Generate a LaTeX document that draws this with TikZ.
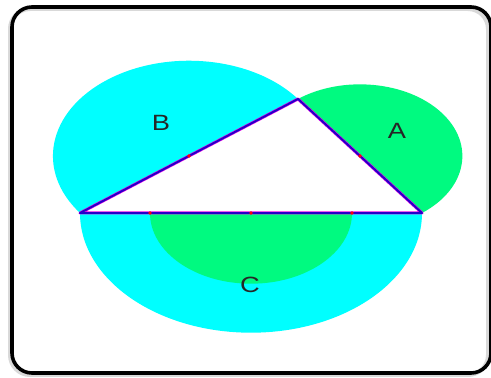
\documentclass[tikz,border=0pt]{standalone}
\usepackage{fontspec}
\setmainfont{Liberation Sans}
\definecolor{cyanfill}{RGB}{0,255,255}
\definecolor{greenfill}{RGB}{0,250,128}
\definecolor{edgeblue}{RGB}{35,0,200}
\definecolor{edgepink}{RGB}{230,0,230}
\begin{document}
\begin{tikzpicture}[x=1pt,y=1pt,
  lbl/.style={font=\fontsize{26}{26}\selectfont, text=black!85, xscale=1.05, yscale=0.85, inner sep=0pt},
  reddot/.style={circle, fill=red, minimum size=3.6pt, inner sep=0pt},
  edgeunder/.style={draw=edgepink, line width=3pt, line join=round},
  edgeover/.style={draw=edgeblue, line width=1.9pt, line join=round}]
\useasboundingbox (0,0) rectangle (491,378);
\fill[white] (0,0) rectangle (491,378);
% frame with soft shadow
\draw[gray!30, line width=4pt, rounded corners=20pt] (10,3) rectangle (488,369);
\draw[black, line width=3.6pt, rounded corners=20pt] (12,5) rectangle (491,371);
\begin{scope}[shift={(0,165)}, yscale=0.7]
  \coordinate (L) at (80,0);
  \coordinate (R) at (422,0);
  \coordinate (T) at (298,162.9);
  \coordinate (CL) at (150,0);
  \coordinate (CR) at (352,0);
  \coordinate (MB) at (251,0);
  \coordinate (MLT) at (189,81.45);
  \coordinate (MTR) at (360,81.45);
  % region C
  \fill[cyanfill] (R) arc[start angle=0, end angle=-180, radius=171] -- cycle;
  \fill[greenfill] (CR) arc[start angle=0, end angle=-180, radius=101] -- cycle;
  % region B
  \fill[cyanfill] (T) arc[start angle=36.77, end angle=216.77, radius=136.07] -- cycle;
  % region A
  \fill[greenfill] (R) arc[start angle=-52.72, end angle=127.28, radius=102.36] -- cycle;
  % triangle
  \draw[edgeunder] (L) -- (T) -- (R) -- cycle;
  \draw[edgeover] (L) -- (T) -- (R) -- cycle;
  % red dots
  \foreach \p in {MLT, MTR, MB, CL, CR} \node[reddot] at (\p) {};
\end{scope}
\node[lbl] (labB) at (161,255) {B};
\node[lbl] (labA) at (397,247) {A};
\node[lbl] (labC) at (250,93) {C};
\end{tikzpicture}
\end{document}
